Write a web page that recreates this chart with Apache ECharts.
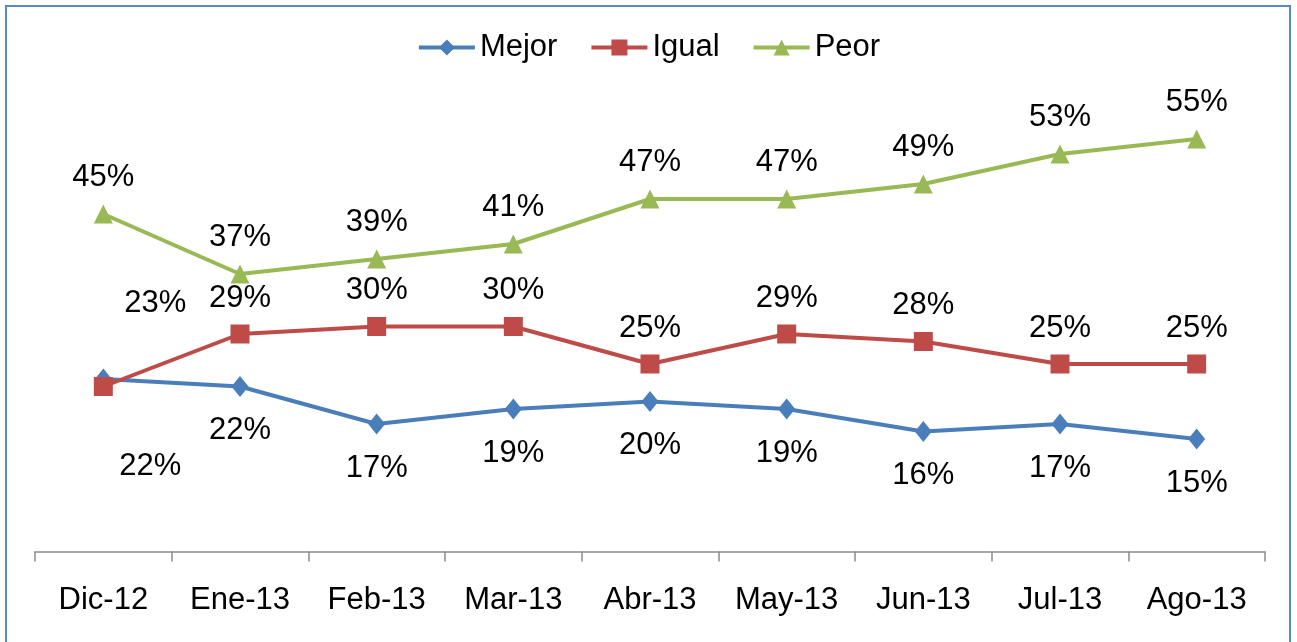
<!DOCTYPE html>
<html>
<head>
<meta charset="utf-8">
<script src="https://cdn.jsdelivr.net/npm/echarts@6/dist/echarts.min.js"></script>
<style>
html,body{margin:0;padding:0;background:#fff;}
#frame{position:absolute;left:5px;top:5px;width:1286px;height:660px;border:2px solid #5b87c5;box-sizing:border-box;}
#myChart{position:absolute;left:0;top:0;width:1297px;height:642px;}
</style>
</head>
<body>
<div id="frame"></div>
<div id="myChart"></div>
<script>
// meses y valores (%)
var meses = ['Dic-12','Ene-13','Feb-13','Mar-13','Abr-13','May-13','Jun-13','Jul-13','Ago-13'];
var mejor = [23,22,17,19,20,19,16,17,15];
var igual = [22,29,30,30,25,29,28,25,25];
var peor  = [45,37,39,41,47,47,49,53,55];

var fuente = 'Liberation Sans, Arial, sans-serif';
var fs = 31;

function etiquetas(vals, especial){
    return vals.map(function(v, i){
        var d = {value: v};
        if(especial && especial[i]) d.label = especial[i];
        return d;
    });
}

var chart = echarts.init(document.getElementById('myChart'));
chart.setOption({
    animation: false,
    textStyle: {fontFamily: fuente},
    legend: {
        top: 27,
        left: 'center',
        itemWidth: 56,
        itemHeight: 20,
        itemGap: 32,
        lineStyle: {width: 4},
        textStyle: {fontSize: fs, color: '#000', fontFamily: fuente},
        data: ['Mejor','Igual','Peor']
    },
    grid: {left: 35, right: 32, top: 101.5, bottom: 90.5, containLabel: false},
    xAxis: {
        type: 'category',
        data: meses,
        boundaryGap: true,
        axisLine: {lineStyle: {color: '#8c8c8c', width: 1.5}},
        axisTick: {show: true, length: 10, alignWithLabel: false, lineStyle: {color: '#8c8c8c', width: 1.5}},
        axisLabel: {fontSize: fs, color: '#000', margin: 33, fontFamily: fuente}
    },
    yAxis: {
        type: 'value',
        min: 0, max: 60,
        show: false,
        splitLine: {show: false}
    },
    series: [
        {
            name: 'Mejor', type: 'line',
            data: etiquetas(mejor, {0: {offset: [52, -120]}}),
            symbol: 'diamond', symbolSize: [17, 21],
            itemStyle: {color: '#4a7ebb'},
            lineStyle: {width: 4, color: '#4a7ebb'},
            label: {show: true, position: 'bottom', distance: 18, fontSize: fs, color: '#000', fontFamily: fuente, formatter: '{c}%'},
            z: 3
        },
        {
            name: 'Igual', type: 'line',
            data: etiquetas(igual, {0: {offset: [47, 116]}}),
            symbol: 'rect', symbolSize: 19,
            itemStyle: {color: '#be4b48'},
            lineStyle: {width: 4, color: '#be4b48'},
            label: {show: true, position: 'top', distance: 11, fontSize: fs, color: '#000', fontFamily: fuente, formatter: '{c}%'},
            z: 4
        },
        {
            name: 'Peor', type: 'line',
            data: etiquetas(peor),
            symbol: 'triangle', symbolSize: 19,
            itemStyle: {color: '#98b954'},
            lineStyle: {width: 4, color: '#98b954'},
            label: {show: true, position: 'top', distance: 12, fontSize: fs, color: '#000', fontFamily: fuente, formatter: '{c}%'},
            z: 2
        }
    ]
});
</script>
</body>
</html>
